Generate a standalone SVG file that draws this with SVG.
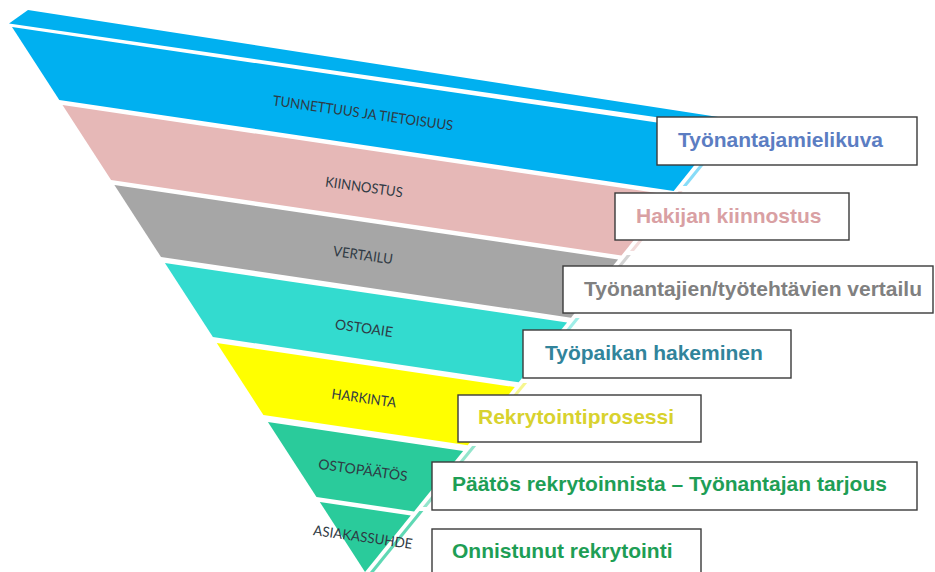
<svg xmlns="http://www.w3.org/2000/svg" width="935" height="572" viewBox="0 0 935 572">
<style>
.lbl{font-family:Lato,"Open Sans","Liberation Sans",sans-serif;font-size:14px;fill:#2f3a44;text-anchor:middle}
.box rect{fill:#ffffff;stroke:#3a3a3a;stroke-width:1.4}
.box text{font-family:"Liberation Sans",Arial,sans-serif;font-weight:bold;font-size:21px}
.side{opacity:0.75}
</style>
<rect width="935" height="572" fill="#ffffff"/>
<g id="funnel">
  <g id="band-tunnettuus">
    <polygon points="9,23.5 28,10 728,118.5 728,127.5" fill="#00b0f0"/>
    <polygon points="12,27 721,132 673.7,190.9 59.3,100" fill="#00b0f0"/>
    <polygon class="side" points="729.6,128 733.6,128 686.7,186 682.7,186" fill="#5fd0f5"/>
    <text class="lbl" x="363" y="118" transform="rotate(8 363 113)" textLength="182" lengthAdjust="spacingAndGlyphs">TUNNETTUUS JA TIETOISUUS</text>
  </g>
  <g id="band-kiinnostus">
    <polygon points="62.5,105 670.4,195 621.4,255.5 111.1,180" fill="#e6b8b7"/>
    <polygon class="side" points="678.6,191 682.6,191 634,251 630,251" fill="#efcfce"/>
    <text class="lbl" x="364" y="192" transform="rotate(8 364 187)" textLength="78" lengthAdjust="spacingAndGlyphs">KIINNOSTUS</text>
  </g>
  <g id="band-vertailu">
    <polygon points="114.4,185 618.1,259.5 571,317.7 161,257" fill="#a6a6a6"/>
    <polygon class="side" points="626.8,255 630.8,255 583.8,313 579.8,313" fill="#c4c4c4"/>
    <text class="lbl" x="363" y="260" transform="rotate(8 363 255)" textLength="60" lengthAdjust="spacingAndGlyphs">VERTAILU</text>
  </g>
  <g id="band-ostoaie">
    <polygon points="164.9,263 567.1,322.5 518.7,382.3 212.9,337" fill="#33dbcf"/>
    <polygon class="side" points="575.7,318 579.7,318 531.1,378 527.1,378" fill="#7fe8e0"/>
    <text class="lbl" x="364" y="333" transform="rotate(8 364 328)" textLength="58" lengthAdjust="spacingAndGlyphs">OSTOAIE</text>
  </g>
  <g id="band-harkinta">
    <polygon points="216.8,343 514.8,387.1 467.7,445.2 263.4,415" fill="#ffff00"/>
    <polygon class="side" points="523.1,383 527.1,383 480.1,441 476.1,441" fill="#f3f36a"/>
    <text class="lbl" x="364" y="403" transform="rotate(8 364 398)" textLength="65" lengthAdjust="spacingAndGlyphs">HARKINTA</text>
  </g>
  <g id="band-ostopaatos">
    <polygon points="267.9,422 463.1,450.9 414.1,511.4 316.5,497" fill="#2acb9b"/>
    <polygon class="side" points="472.1,446 476.1,446 426.7,507 422.7,507" fill="#6fdcbb"/>
    <text class="lbl" x="363" y="475" transform="rotate(8 363 470)" textLength="90" lengthAdjust="spacingAndGlyphs">OSTOPÄÄTÖS</text>
  </g>
  <g id="band-asiakassuhde">
    <polygon points="319.8,502 410.8,515.5 365,572" fill="#2acb9b"/>
    <polygon class="side" points="419.4,511 423.4,511 374,572 370,572" fill="#2acb9b"/>
    <text class="lbl" x="363" y="542" transform="rotate(8 363 537)" textLength="100" lengthAdjust="spacingAndGlyphs" fill="#3f4a50">ASIAKASSUHDE</text>
  </g>
</g>
<g id="box-tyonantajamielikuva" class="box">
  <rect x="657" y="117" width="260" height="48"/>
  <text x="678" y="147" fill="#5b7dc2">Työnantajamielikuva</text>
</g>
<g id="box-hakijan" class="box">
  <rect x="615" y="193" width="234" height="47"/>
  <text x="636" y="223" fill="#d9a0a3">Hakijan kiinnostus</text>
</g>
<g id="box-vertailu" class="box">
  <rect x="563" y="266" width="370" height="47"/>
  <text x="584" y="296" fill="#808080">Työnantajien/työtehtävien vertailu</text>
</g>
<g id="box-hakeminen" class="box">
  <rect x="523" y="330" width="268" height="48"/>
  <text x="545" y="360" fill="#31849b">Työpaikan hakeminen</text>
</g>
<g id="box-rekrytointiprosessi" class="box">
  <rect x="458" y="395" width="243" height="47"/>
  <text x="478" y="424" fill="#d8d22e">Rekrytointiprosessi</text>
</g>
<g id="box-paatos" class="box">
  <rect x="432" y="462" width="485" height="48"/>
  <text x="452" y="491" fill="#1e9e55">Päätös rekrytoinnista – Työnantajan tarjous</text>
</g>
<g id="box-onnistunut" class="box">
  <rect x="432" y="529" width="269" height="48"/>
  <text x="452" y="558" fill="#1e9e55">Onnistunut rekrytointi</text>
</g>
</svg>
